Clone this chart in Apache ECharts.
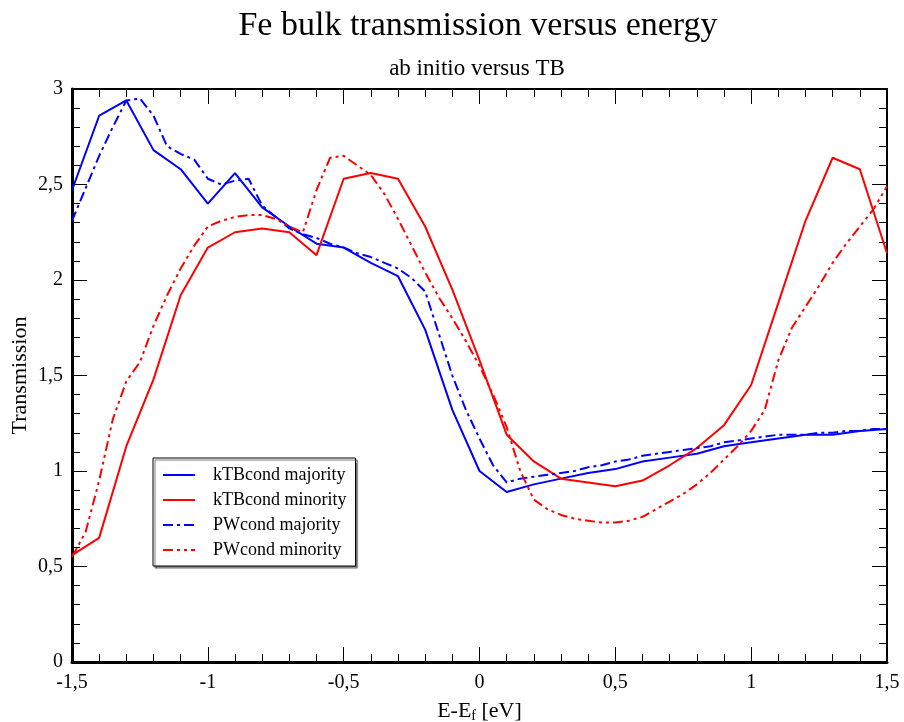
<!DOCTYPE html>
<html>
<head>
<meta charset="utf-8">
<script src="https://cdn.jsdelivr.net/npm/echarts@6/dist/echarts.min.js"></script>
<style>html,body{margin:0;padding:0;background:#fff;}#c{width:904px;height:722px;}</style>
</head>
<body>
<div id="c"></div>
<script>
// ---- data ----
const xKTB = [-1.5,-1.4,-1.3,-1.2,-1.1,-1.0,-0.9,-0.8,-0.7,-0.6,-0.5,-0.4,-0.3,-0.2,-0.1,0.0,0.1,0.2,0.3,0.4,0.5,0.6,0.7,0.8,0.9,1.0,1.1,1.2,1.3,1.4,1.5];
const ktbMajority = [2.47,2.86,2.94,2.68,2.58,2.40,2.56,2.38,2.28,2.19,2.17,2.09,2.02,1.74,1.32,1.00,0.89,0.93,0.96,0.99,1.01,1.05,1.07,1.09,1.13,1.15,1.17,1.19,1.19,1.21,1.22];
const ktbMinority = [0.56,0.65,1.13,1.48,1.92,2.17,2.25,2.27,2.25,2.13,2.53,2.56,2.53,2.28,1.95,1.58,1.19,1.05,0.96,0.94,0.92,0.95,1.03,1.12,1.24,1.45,1.88,2.31,2.64,2.58,2.14];
const xPW = [-1.5,-1.45,-1.4,-1.35,-1.3,-1.25,-1.2,-1.15,-1.1,-1.05,-1.0,-0.95,-0.9,-0.85,-0.8,-0.75,-0.7,-0.65,-0.6,-0.55,-0.5,-0.45,-0.4,-0.35,-0.3,-0.25,-0.2,-0.15,-0.1,-0.05,0.0,0.05,0.1,0.15,0.2,0.25,0.3,0.35,0.4,0.45,0.5,0.55,0.6,0.65,0.7,0.75,0.8,0.85,0.9,0.95,1.0,1.05,1.1,1.15,1.2,1.25,1.3,1.35,1.4,1.45,1.5];
const pwMajority = [2.31,2.48,2.65,2.80,2.94,2.95,2.86,2.70,2.66,2.63,2.53,2.50,2.52,2.53,2.39,2.33,2.27,2.24,2.22,2.19,2.17,2.14,2.12,2.09,2.06,2.01,1.94,1.72,1.50,1.32,1.17,1.03,0.94,0.96,0.97,0.98,0.99,1.00,1.02,1.03,1.05,1.06,1.08,1.09,1.10,1.11,1.12,1.13,1.15,1.16,1.17,1.18,1.19,1.19,1.19,1.20,1.20,1.21,1.21,1.22,1.22];
const pwMinority = [0.55,0.68,0.95,1.27,1.47,1.57,1.76,1.92,2.06,2.18,2.28,2.31,2.33,2.34,2.34,2.32,2.28,2.25,2.47,2.64,2.65,2.60,2.55,2.45,2.32,2.18,2.04,1.91,1.80,1.68,1.55,1.40,1.23,1.00,0.85,0.80,0.77,0.75,0.74,0.73,0.73,0.74,0.76,0.80,0.84,0.88,0.93,0.99,1.06,1.13,1.21,1.32,1.58,1.75,1.86,1.97,2.09,2.19,2.28,2.37,2.49];
const seriesNames = ['kTBcond majority','kTBcond minority','PWcond majority','PWcond minority'];
const titleText = 'Fe bulk transmission versus energy';
const subtitleText = 'ab initio versus TB';

const pair = (xs, ys) => xs.map((x, i) => [x, ys[i]]);
const fmt = v => String(+v.toFixed(2)).replace('.', ',');
const FONT = '"Liberation Serif", "DejaVu Serif", serif';

function axisCommon(extra) {
  return Object.assign({
    type: 'value',
    splitLine: { show: false },
    axisLine: { show: true, onZero: false, lineStyle: { color: '#000', width: 2 } },
    axisTick: { show: true, inside: true, length: 15, lineStyle: { color: '#000', width: 1 } },
    minorTick: { show: true, splitNumber: 5, length: 8, lineStyle: { color: '#000', width: 1 } },
    axisLabel: { show: false }
  }, extra);
}

const chart = echarts.init(document.getElementById('c'), null, { renderer: 'canvas' });
chart.setOption({
  animation: false,
  backgroundColor: '#fff',
  title: [
    { text: titleText, left: 473, top: 4, textAlign: 'center',
      textStyle: { fontFamily: FONT, fontSize: 34, fontWeight: 'normal', color: '#000' } },
    { text: subtitleText, left: 472, top: 52, textAlign: 'center',
      textStyle: { fontFamily: FONT, fontSize: 23, fontWeight: 'normal', color: '#000' } }
  ],
  grid: { left: 72, right: 17, top: 89, bottom: 60, outerBoundsMode: 'none', containLabel: false },
  legend: {
    orient: 'vertical', left: 153, top: 458,
    data: seriesNames,
    itemWidth: 32, itemHeight: 10, itemGap: 7,
    padding: [8, 9, 7, 9],
    backgroundColor: '#fff',
    borderColor: '#000', borderWidth: 1,
    shadowColor: 'rgba(0,0,0,0.55)', shadowOffsetX: 2, shadowOffsetY: 2, shadowBlur: 1,
    itemStyle: { opacity: 0 },
    textStyle: { fontFamily: FONT, fontSize: 18, color: '#000', padding: [0, 0, 0, 13] }
  },
  xAxis: [
    axisCommon({
      min: -1.5, max: 1.5, interval: 0.5, position: 'bottom',
      axisLine: { show: true, onZero: false, lineStyle: { color: '#000', width: 3 } },
      axisLabel: { show: true, fontFamily: FONT, fontSize: 20, color: '#000', margin: 11, formatter: fmt },
      name: '{n|E-E}{s|f}{n| [eV]}', nameLocation: 'middle', nameGap: 37,
      nameTextStyle: { rich: {
        n: { fontFamily: FONT, fontSize: 22, color: '#000' },
        s: { fontFamily: FONT, fontSize: 14, color: '#000', verticalAlign: 'bottom', padding: [10, 0, 0, 0] }
      } }
    }),
    axisCommon({ min: -1.5, max: 1.5, interval: 0.5, position: 'top' })
  ],
  yAxis: [
    axisCommon({
      min: 0, max: 3, interval: 0.5, position: 'left',
      axisLine: { show: true, onZero: false, lineStyle: { color: '#000', width: 3 } },
      axisLabel: { show: true, fontFamily: FONT, fontSize: 20, color: '#000', margin: 9, formatter: fmt },
      name: 'Transmission', nameLocation: 'middle', nameGap: 41, nameRotate: 90, nameMoveOverlap: false,
      nameTextStyle: { fontFamily: FONT, fontSize: 22, color: '#000' }
    }),
    axisCommon({ min: 0, max: 3, interval: 0.5, position: 'right' })
  ],
  series: [
    { name: seriesNames[0], type: 'line', data: pair(xKTB, ktbMajority), showSymbol: false, symbol: 'none',
      lineStyle: { color: '#0000ff', width: 2 }, itemStyle: { color: '#0000ff' } },
    { name: seriesNames[1], type: 'line', data: pair(xKTB, ktbMinority), showSymbol: false, symbol: 'none',
      lineStyle: { color: '#ff0000', width: 2 }, itemStyle: { color: '#ff0000' } },
    { name: seriesNames[2], type: 'line', data: pair(xPW, pwMajority), showSymbol: false, symbol: 'none',
      lineStyle: { color: '#0000ff', width: 2, type: [10, 4, 3, 4] }, itemStyle: { color: '#0000ff' } },
    { name: seriesNames[3], type: 'line', data: pair(xPW, pwMinority), showSymbol: false, symbol: 'none',
      lineStyle: { color: '#ff0000', width: 2, type: [10, 4, 3, 4, 3, 4] }, itemStyle: { color: '#ff0000' } }
  ]
});
</script>
</body>
</html>
